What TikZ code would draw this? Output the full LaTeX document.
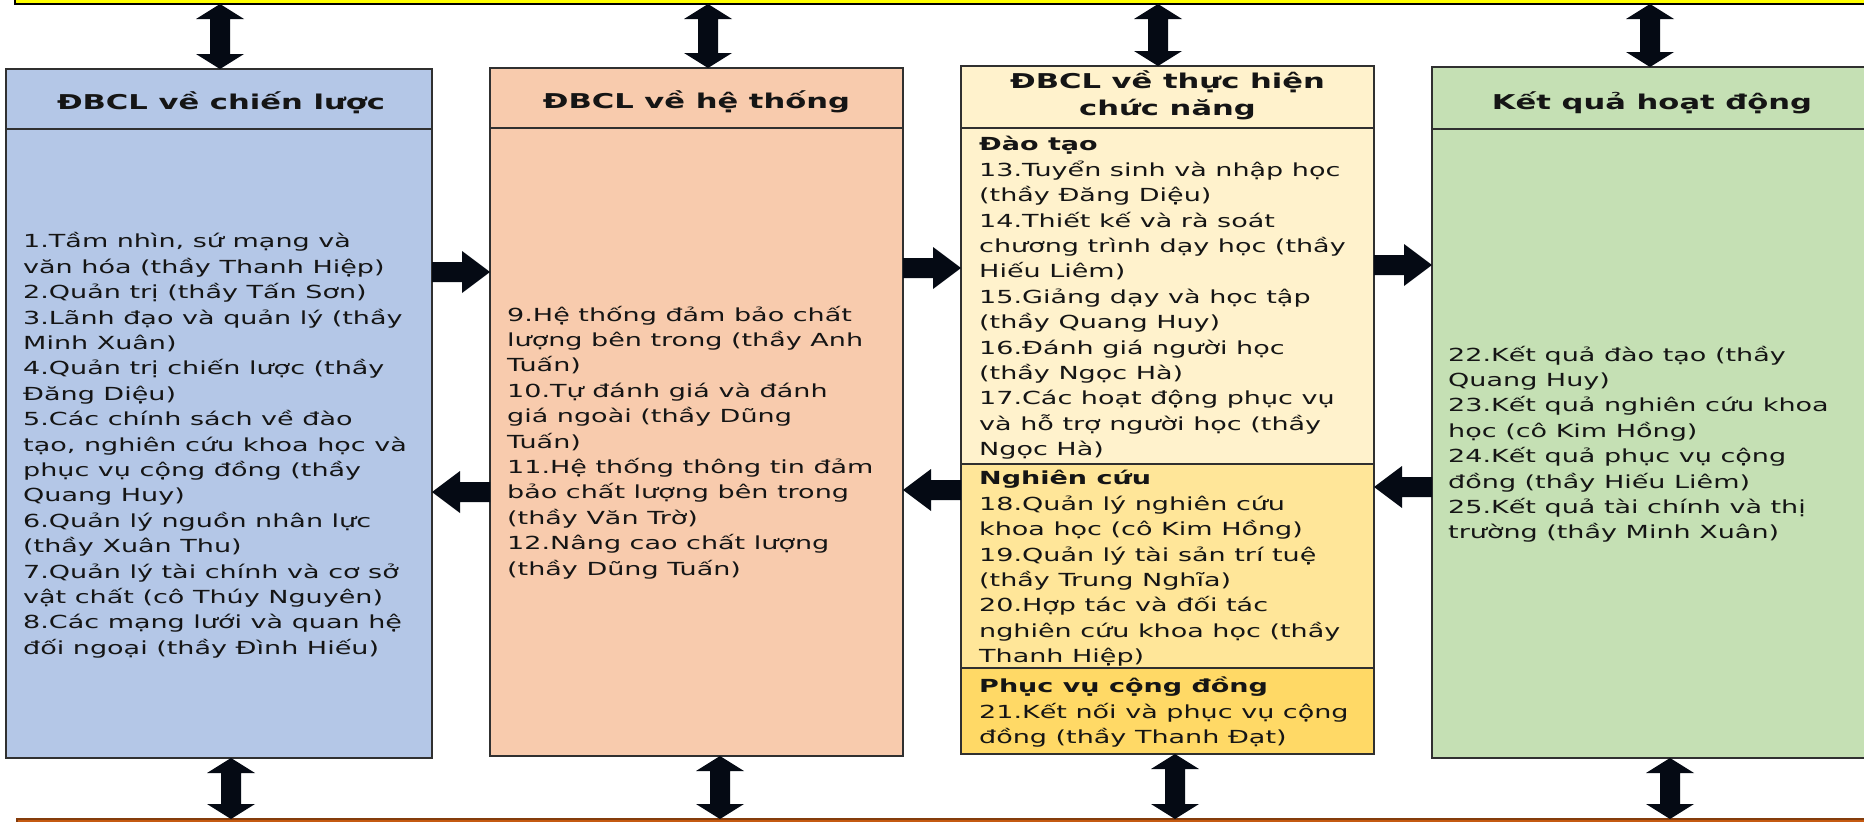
\documentclass[tikz,border=0pt]{standalone}
\usepackage{fontspec}
\setmainfont[FakeStretch=1.5]{DejaVu Sans}
\usetikzlibrary{calc}
\definecolor{cblue}{HTML}{B4C7E7}
\definecolor{csalmon}{HTML}{F8CBAD}
\definecolor{cgold1}{HTML}{FFF2CC}
\definecolor{cgold2}{HTML}{FFE699}
\definecolor{cgold3}{HTML}{FFD966}
\definecolor{cgreen}{HTML}{C5E0B4}
\definecolor{cyel}{HTML}{FFFF00}
\definecolor{cbrown}{HTML}{C55A11}
\definecolor{cbrownline}{HTML}{843C0C}
\definecolor{boxline}{HTML}{303030}
\definecolor{arrowc}{HTML}{050A14}
\definecolor{txt}{HTML}{151515}
\tikzset{
  box/.style={rectangle, draw=boxline, line width=1.4pt, inner sep=0pt, outer sep=0pt, anchor=north west},
  bodytext/.style={font=\fontsize{18}{25.4}\selectfont, align=left, inner sep=0pt, text=txt},
  headtext/.style={font=\bfseries\fontsize{20.4}{27}\selectfont, align=center, inner sep=0pt, text=txt},
  blk/.style={fill=arrowc},
}
\newcommand\RArrow[2]{\fill[blk] let \p1=(#1), \p2=(#2) in
  (\x1,\y1+10pt) -- (\x2-28pt,\y1+10pt) -- (\x2-28pt,\y1+21pt) -- (\x2,\y1)
  -- (\x2-28pt,\y1-21pt) -- (\x2-28pt,\y1-10pt) -- (\x1,\y1-10pt) -- cycle;}
\newcommand\LArrow[2]{\fill[blk] let \p1=(#1), \p2=(#2) in
  (\x2,\y1+10pt) -- (\x1+28pt,\y1+10pt) -- (\x1+28pt,\y1+21pt) -- (\x1,\y1)
  -- (\x1+28pt,\y1-21pt) -- (\x1+28pt,\y1-10pt) -- (\x2,\y1-10pt) -- cycle;}
\newcommand\VArrow[2]{\fill[blk] let \p1=(#1), \p2=(#2) in
  (\x1,\y1) -- (\x1+24pt,\y1-15pt) -- (\x1+10pt,\y1-15pt) -- (\x1+10pt,\y2+15pt)
  -- (\x1+24pt,\y2+15pt) -- (\x1,\y2) -- (\x1-24pt,\y2+15pt) -- (\x1-10pt,\y2+15pt)
  -- (\x1-10pt,\y1-15pt) -- (\x1-24pt,\y1-15pt) -- cycle;}
\begin{document}
\begin{tikzpicture}[x=1pt,y=-1pt]
\useasboundingbox[fill=white] (0,0) rectangle (1864,822);

% top and bottom bars
\node[box, fill=cyel, draw=black, minimum width=1870, minimum height=16] (topbar) at (15,-12) {};
\node[box, fill=cbrown, draw=cbrownline, minimum width=1870, minimum height=20] (botbar) at (17,819) {};

% column 1
\node[box, fill=cblue, minimum width=426, minimum height=60] (h1) at (6,69) {};
\node[box, fill=cblue, minimum width=426, minimum height=629] (b1) at (6,129) {};
% column 2
\node[box, fill=csalmon, minimum width=413, minimum height=60] (h2) at (490,68) {};
\node[box, fill=csalmon, minimum width=413, minimum height=628] (b2) at (490,128) {};
% column 3
\node[box, fill=cgold1, minimum width=413, minimum height=62] (h3) at (961,66) {};
\node[box, fill=cgold1, minimum width=413, minimum height=336] (s1) at (961,128) {};
\node[box, fill=cgold2, minimum width=413, minimum height=204] (s2) at (961,464) {};
\node[box, fill=cgold3, minimum width=413, minimum height=86] (s3) at (961,668) {};
\coordinate (b3s) at (s3.south);
% column 4
\node[box, fill=cgreen, minimum width=440, minimum height=62] (h4) at (1432,67) {};
\node[box, fill=cgreen, minimum width=440, minimum height=629] (b4) at (1432,129) {};

% headers
\node[headtext, anchor=base] (ht1) at (221,109) {ĐBCL về chiến lược};
\node[headtext, anchor=base] (ht2) at (696.5,108) {ĐBCL về hệ thống};
\node[headtext] (ht3) at (1167.5,96.5) {\strut ĐBCL về thực hiện\\chức năng\strut};
\node[headtext, anchor=base] (ht4) at (1652,109) {Kết quả hoạt động};

% body texts
\node[bodytext, anchor=west] (t1) at (23,446) {\strut 1.Tầm nhìn, sứ mạng và\\
văn hóa (thầy Thanh Hiệp)\\
2.Quản trị (thầy Tấn Sơn)\\
3.Lãnh đạo và quản lý (thầy\\
Minh Xuân)\\
4.Quản trị chiến lược (thầy\\
Đăng Diệu)\\
5.Các chính sách về đào\\
tạo, nghiên cứu khoa học và\\
phục vụ cộng đồng (thầy\\
Quang Huy)\\
6.Quản lý nguồn nhân lực\\
(thầy Xuân Thu)\\
7.Quản lý tài chính và cơ sở\\
vật chất (cô Thúy Nguyên)\\
8.Các mạng lưới và quan hệ\\
đối ngoại (thầy Đình Hiếu)\strut};

\node[bodytext, anchor=west] (t2) at (507,443) {\strut 9.Hệ thống đảm bảo chất\\
lượng bên trong (thầy Anh\\
Tuấn)\\
10.Tự đánh giá và đánh\\
giá ngoài (thầy Dũng\\
Tuấn)\\
11.Hệ thống thông tin đảm\\
bảo chất lượng bên trong\\
(thầy Văn Trờ)\\
12.Nâng cao chất lượng\\
(thầy Dũng Tuấn)\strut};

\node[bodytext, anchor=north west] (t3a) at (979,133) {\strut\textbf{Đào tạo}\\
13.Tuyển sinh và nhập học\\
(thầy Đăng Diệu)\\
14.Thiết kế và rà soát\\
chương trình dạy học (thầy\\
Hiếu Liêm)\\
15.Giảng dạy và học tập\\
(thầy Quang Huy)\\
16.Đánh giá người học\\
(thầy Ngọc Hà)\\
17.Các hoạt động phục vụ\\
và hỗ trợ người học (thầy\\
Ngọc Hà)\strut};

\node[bodytext, anchor=north west] (t3b) at (979,467) {\strut\textbf{Nghiên cứu}\\
18.Quản lý nghiên cứu\\
khoa học (cô Kim Hồng)\\
19.Quản lý tài sản trí tuệ\\
(thầy Trung Nghĩa)\\
20.Hợp tác và đối tác\\
nghiên cứu khoa học (thầy\\
Thanh Hiệp)\strut};

\node[bodytext, anchor=north west] (t3c) at (979,675) {\strut\textbf{Phục vụ cộng đồng}\\
21.Kết nối và phục vụ cộng\\
đồng (thầy Thanh Đạt)\strut};

\node[bodytext, anchor=west] (t4) at (1448,445) {\strut 22.Kết quả đào tạo (thầy\\
Quang Huy)\\
23.Kết quả nghiên cứu khoa\\
học (cô Kim Hồng)\\
24.Kết quả phục vụ cộng\\
đồng (thầy Hiếu Liêm)\\
25.Kết quả tài chính và thị\\
trường (thầy Minh Xuân)\strut};

% horizontal arrows
\coordinate (r12) at (0,272);
\coordinate (r23) at (0,268);
\coordinate (r34) at (0,265);
\coordinate (l12) at (0,492);
\coordinate (l23) at (0,490);
\coordinate (l34) at (0,487);
\RArrow{b1.east |- r12}{b2.west |- r12}
\RArrow{b2.east |- r23}{s1.west |- r23}
\RArrow{s1.east |- r34}{b4.west |- r34}
\LArrow{b1.east |- l12}{b2.west |- l12}
\LArrow{b2.east |- l23}{s2.west |- l23}
\LArrow{s2.east |- l34}{b4.west |- l34}

% vertical double arrows
\coordinate (v1) at (220,0);
\coordinate (v2) at (708,0);
\coordinate (v3) at (1158,0);
\coordinate (v4) at (1650,0);
\coordinate (w1) at (231,0);
\coordinate (w2) at (720,0);
\coordinate (w3) at (1175,0);
\coordinate (w4) at (1670,0);
\VArrow{topbar.south -| v1}{h1.north -| v1}
\VArrow{topbar.south -| v2}{h2.north -| v2}
\VArrow{topbar.south -| v3}{h3.north -| v3}
\VArrow{topbar.south -| v4}{h4.north -| v4}
\VArrow{b1.south -| w1}{botbar.north -| w1}
\VArrow{b2.south -| w2}{botbar.north -| w2}
\VArrow{b3s -| w3}{botbar.north -| w3}
\VArrow{b4.south -| w4}{botbar.north -| w4}
\end{tikzpicture}
\end{document}
